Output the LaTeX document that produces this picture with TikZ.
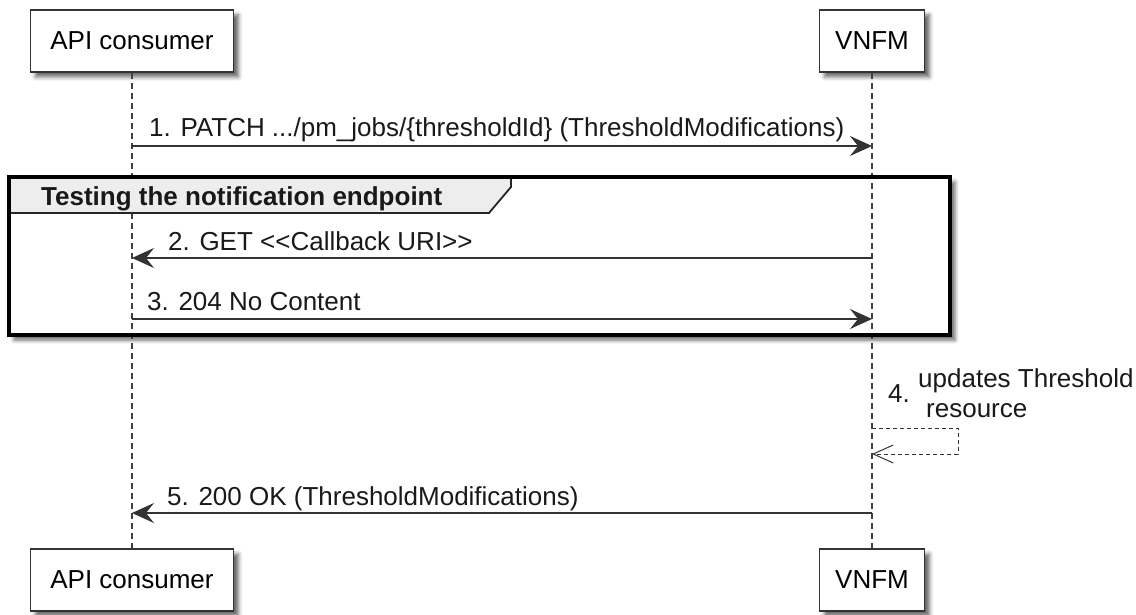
\documentclass[tikz,border=0pt]{standalone}
\usepackage{fontspec}
\setmainfont{Liberation Sans}
\usetikzlibrary{arrows.meta,shadows.blur}
\tikzstyle{actor} = [draw=black!80, line width=1.8pt, fill=white, minimum height=62pt, inner sep=0pt, font=\fontsize{26}{30}\selectfont, blur shadow={shadow xshift=5pt, shadow yshift=-5pt, shadow blur radius=4pt, shadow opacity=60}]
\tikzstyle{lifeline} = [line width=1.2pt, draw=black!75, dash pattern=on 6pt off 4pt]
\tikzstyle{msg} = [line width=1.3pt, draw=black!80, -{Stealth[length=22pt, width=20pt, inset=8pt]}]
\tikzstyle{reply} = [line width=1pt, draw=black!80, dash pattern=on 4pt off 3pt, -{Straight Barb[length=20pt, width=18pt]}]
\tikzstyle{msgtext} = [anchor=base west, inner sep=0pt, font=\fontsize{26}{30}\selectfont, text=black!90]

\begin{document}
\begin{tikzpicture}[x=1pt, y=-1pt]
    \useasboundingbox (0,0) rectangle (1136,615);

    % Participants
    \node[actor, minimum width=203pt] (apitop) at (132,41) {API consumer};
    \node[actor, minimum width=105pt] (vnfmtop) at (872,41) {VNFM};
    \node[actor, minimum width=203pt] (apibot) at (132,580) {API consumer};
    \node[actor, minimum width=105pt] (vnfmbot) at (872,580) {VNFM};

    % Frame background
    \fill[white, blur shadow={shadow xshift=5pt, shadow yshift=-5pt, shadow blur radius=4pt, shadow opacity=60}] (9,177) rectangle (950,335);

    % Lifelines
    \draw[lifeline] (apitop.south) -- (apibot.north);
    \draw[lifeline] (vnfmtop.south) -- (vnfmbot.north);

    % Frame
    \fill[gray!14] (9,177) -- (511,177) -- (511,187) -- (489,213) -- (9,213) -- cycle;
    \draw[line width=1.8pt, black!85] (511,177) -- (511,187) -- (489,213) -- (9,213);
    \draw[line width=3.8pt, black] (9,177) rectangle (950,335);
    \node[msgtext, font=\bfseries\fontsize{26}{30}\selectfont] (frametitle) at (41,205) {Testing the notification endpoint};

    % Message ends
    \coordinate (api1) at (132,146);  \coordinate (vnfm1) at (872,146);
    \coordinate (api2) at (132,258);  \coordinate (vnfm2) at (872,258);
    \coordinate (api3) at (132,319);  \coordinate (vnfm3) at (872,319);
    \coordinate (selfout) at (872,428); \coordinate (selfturn) at (958,428);
    \coordinate (selfback) at (958,454); \coordinate (selfin) at (872,454);
    \coordinate (api5) at (132,513);  \coordinate (vnfm5) at (872,513);

    % Draw Arrows
    \draw[msg] (api1) -- (vnfm1);
        \node[msgtext] (msg1) at (149,137) {1. PATCH .../pm\_jobs/\{thresholdId\} (ThresholdModifications)};
    \draw[msg] (vnfm2) -- (api2);
        \node[msgtext] (msg2) at (168,250) {2. GET <{}<Callback URI>{}>};
    \draw[msg] (api3) -- (vnfm3);
        \node[msgtext] (msg3) at (147,310) {3. 204 No Content};
    \draw[reply] (selfout) -- (selfturn) -- (selfback) -- (selfin);
        \node[msgtext] (msg4) at (888,402) {4.};
        \node[msgtext] (msg4a) at (918,387) {updates Threshold};
        \node[msgtext] (msg4b) at (926,417) {resource};
    \draw[msg] (vnfm5) -- (api5);
        \node[msgtext] (msg5) at (167,505) {5. 200 OK (ThresholdModifications)};

\end{tikzpicture}
\end{document}
